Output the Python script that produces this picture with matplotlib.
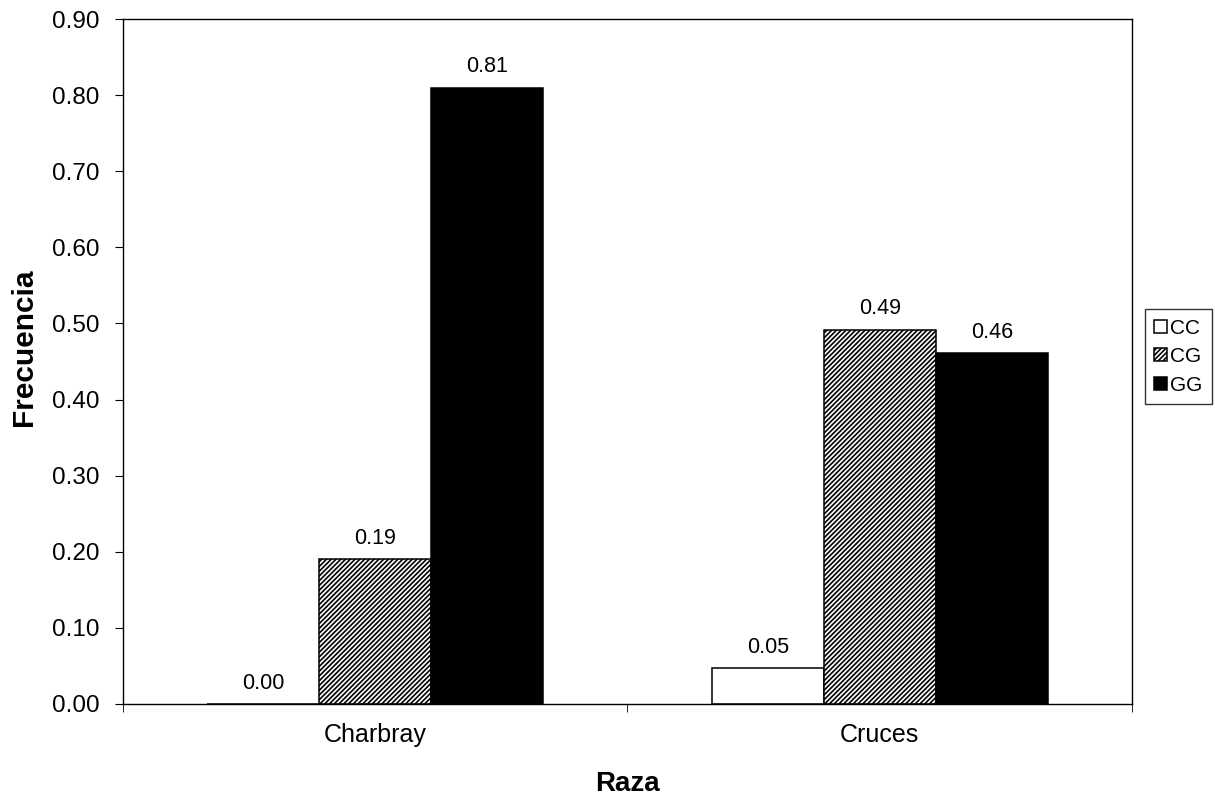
import numpy as np
import matplotlib.pyplot as plt

plt.rcParams['font.family'] = ['Liberation Sans', 'DejaVu Sans']
plt.rcParams['hatch.linewidth'] = 1.2

razas = ['Charbray', 'Cruces']
genotipos = ['CC', 'CG', 'GG']
cc = [0.0, 0.047]
cg = [0.19, 0.492]
gg = [0.81, 0.461]

fig = plt.figure(figsize=(12.15, 7.96), dpi=100)
ax = fig.add_axes([0.1012, 0.1156, 0.8305, 0.8605])

x = np.arange(len(razas))
w = 0.222
estilos = [dict(color='white', hatch=None), dict(color='white', hatch='///////'), dict(color='black', hatch=None)]
for k, (vals, st) in enumerate(zip([cc, cg, gg], estilos)):
    bars = ax.bar(x + (k - 1) * w, vals, w, facecolor=st['color'], edgecolor='black',
                  hatch=st['hatch'], linewidth=1.1, label=genotipos[k])
    for b, v in zip(bars, vals):
        ax.annotate('%.2f' % v, (b.get_x() + b.get_width() / 2, v), xytext=(0, 15),
                    textcoords='offset points', ha='center', va='center', fontsize=15.5)

ax.set_xlim(-0.5, 1.5)
ax.set_ylim(0, 0.9)
yt = np.arange(0, 0.91, 0.1)
ax.set_yticks(yt)
ax.set_yticklabels(['%.2f' % t for t in yt], fontsize=17.5)
ax.set_xticks(x)
ax.set_xticklabels(razas, fontsize=18)
ax.set_xticks([-0.5, 0.5, 1.5], minor=True)
ax.tick_params(axis='x', which='major', length=0, pad=14)
ax.tick_params(axis='x', which='minor', length=6, direction='out')
ax.tick_params(axis='y', length=6, pad=11, direction='out')
for s in ax.spines.values():
    s.set_linewidth(1.0)

ax.set_ylabel('Frecuencia', fontsize=21.5, fontweight='bold', labelpad=10)
ax.yaxis.label.set_y(0.521)
ax.set_xlabel('Raza', fontsize=20, fontweight='bold', labelpad=17)

leg = ax.legend(loc='center left', bbox_to_anchor=(1.0129, 0.507), fontsize=15,
                frameon=True, fancybox=False, edgecolor='black',
                handlelength=0.6, handleheight=0.6, handletextpad=0.15,
                borderpad=0.45, labelspacing=0.45, borderaxespad=0)
leg.get_frame().set_linewidth(1.0)

fig.savefig('out.png', dpi=100)
